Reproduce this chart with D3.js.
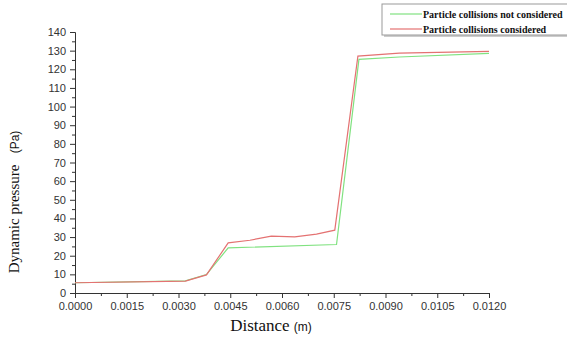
<!DOCTYPE html>
<html>
<head>
<meta charset="utf-8">
<script src="https://cdn.jsdelivr.net/npm/d3@7"></script>
<style>
  body { margin: 0; background: #fff; }
  svg { display: block; }
</style>
</head>
<body>
<div id="chart"></div>
<script>
// Data (distance in m, dynamic pressure in Pa)
const distNoColl = [0.0000, 0.0032, 0.00381, 0.00444, 0.00758, 0.00823, 0.0094, 0.0120];
const presNoColl = [5.5, 6.5, 9.9, 24.2, 26.0, 125.3, 126.6, 128.5];

const distColl = [0.0000, 0.0032, 0.00381, 0.00444, 0.00507, 0.00569, 0.00637, 0.0070, 0.00753, 0.0082, 0.0094, 0.0120];
const presColl = [5.5, 6.4, 9.7, 26.9, 28.3, 30.5, 30.1, 31.6, 33.7, 127.1, 128.7, 129.6];

const xTicks = [0, 0.0015, 0.0030, 0.0045, 0.0060, 0.0075, 0.0090, 0.0105, 0.0120];
const yTicks = [0, 10, 20, 30, 40, 50, 60, 70, 80, 90, 100, 110, 120, 130, 140];

const seriesNames = ['Particle collisions not considered', 'Particle collisions considered'];
const seriesColors = ['#80e280', '#e47272'];

const width = 567, height = 337;
const margin = { top: 32, right: 78, bottom: 44, left: 75 };

const svg = d3.select('#chart').append('svg')
  .attr('width', width)
  .attr('height', height);

const x = d3.scaleLinear()
  .domain([0, 0.012])
  .range([margin.left, width - margin.right]);

const y = d3.scaleLinear()
  .domain([0, 140])
  .range([height - margin.bottom, margin.top]);

// minor ticks halfway between the majors
const xMinor = xTicks.slice(1).map((t, i) => (t + xTicks[i]) / 2);
const yMinor = yTicks.slice(1).map((t, i) => (t + yTicks[i]) / 2);

function styleAxis(g) {
  g.selectAll('path, line').attr('stroke', '#333').attr('stroke-width', 1);
  g.selectAll('text')
    .attr('fill', '#333')
    .style('font-family', '"Liberation Sans", Arial, sans-serif')
    .style('font-size', '11px');
}

// X axis
svg.append('g')
  .attr('transform', `translate(0, ${y(0)})`)
  .call(d3.axisBottom(x).tickValues(xMinor).tickSize(3).tickFormat('').tickSizeOuter(0))
  .call(styleAxis);
svg.append('g')
  .attr('transform', `translate(0, ${y(0)})`)
  .call(d3.axisBottom(x).tickValues(xTicks).tickSize(5).tickPadding(4)
    .tickFormat(d3.format('.4f')).tickSizeOuter(0))
  .call(styleAxis);

// Y axis
svg.append('g')
  .attr('transform', `translate(${x(0)}, 0)`)
  .call(d3.axisLeft(y).tickValues(yMinor).tickSize(3).tickFormat('').tickSizeOuter(0))
  .call(styleAxis);
svg.append('g')
  .attr('transform', `translate(${x(0)}, 0)`)
  .call(d3.axisLeft(y).tickValues(yTicks).tickSize(5).tickPadding(4).tickSizeOuter(0))
  .call(styleAxis);

// Lines
const line = d3.line()
  .x(d => x(d[0]))
  .y(d => y(d[1]));

const seriesData = [
  d3.zip(distNoColl, presNoColl),
  d3.zip(distColl, presColl)
];

seriesData.forEach((data, i) => {
  svg.append('path')
    .datum(data)
    .attr('fill', 'none')
    .attr('stroke', seriesColors[i])
    .attr('stroke-width', 1.2)
    .attr('d', line);
});

// Axis titles
const xTitle = svg.append('text')
  .attr('x', 271)
  .attr('y', 331)
  .attr('text-anchor', 'middle')
  .attr('fill', '#111');
xTitle.append('tspan')
  .style('font-family', '"Liberation Serif", "Times New Roman", serif')
  .style('font-size', '17px')
  .text('Distance ');
xTitle.append('tspan')
  .style('font-family', '"Liberation Sans", Arial, sans-serif')
  .style('font-size', '12px')
  .text('(m)');

const yTitle = svg.append('text')
  .attr('transform', 'translate(19, 202) rotate(-90)')
  .attr('text-anchor', 'middle')
  .attr('fill', '#111');
yTitle.append('tspan')
  .style('font-family', '"Liberation Serif", "Times New Roman", serif')
  .style('font-size', '15px')
  .text('Dynamic pressure\u00a0\u00a0\u00a0');
yTitle.append('tspan')
  .style('font-family', '"Liberation Sans", Arial, sans-serif')
  .style('font-size', '12px')
  .text('(Pa)');

// Legend (box runs off the right edge, as in the original)
const legend = svg.append('g');
legend.append('rect')
  .attr('x', 384).attr('y', 6)
  .attr('width', 200).attr('height', 31)
  .attr('fill', '#ccc');
legend.append('rect')
  .attr('x', 382).attr('y', 4)
  .attr('width', 200).attr('height', 31)
  .attr('fill', '#fff')
  .attr('stroke', '#999')
  .attr('stroke-width', 1);

seriesNames.forEach((name, i) => {
  const ly = 14 + i * 15;
  legend.append('line')
    .attr('x1', 390).attr('x2', 422)
    .attr('y1', ly).attr('y2', ly)
    .attr('stroke', seriesColors[i])
    .attr('stroke-width', 1.2);
  legend.append('text')
    .attr('x', 423)
    .attr('y', ly + 3.5)
    .style('font-family', '"Liberation Serif", "Times New Roman", serif')
    .style('font-weight', 'bold')
    .style('font-size', '10px')
    .attr('fill', '#111')
    .text(name);
});
</script>
</body>
</html>
